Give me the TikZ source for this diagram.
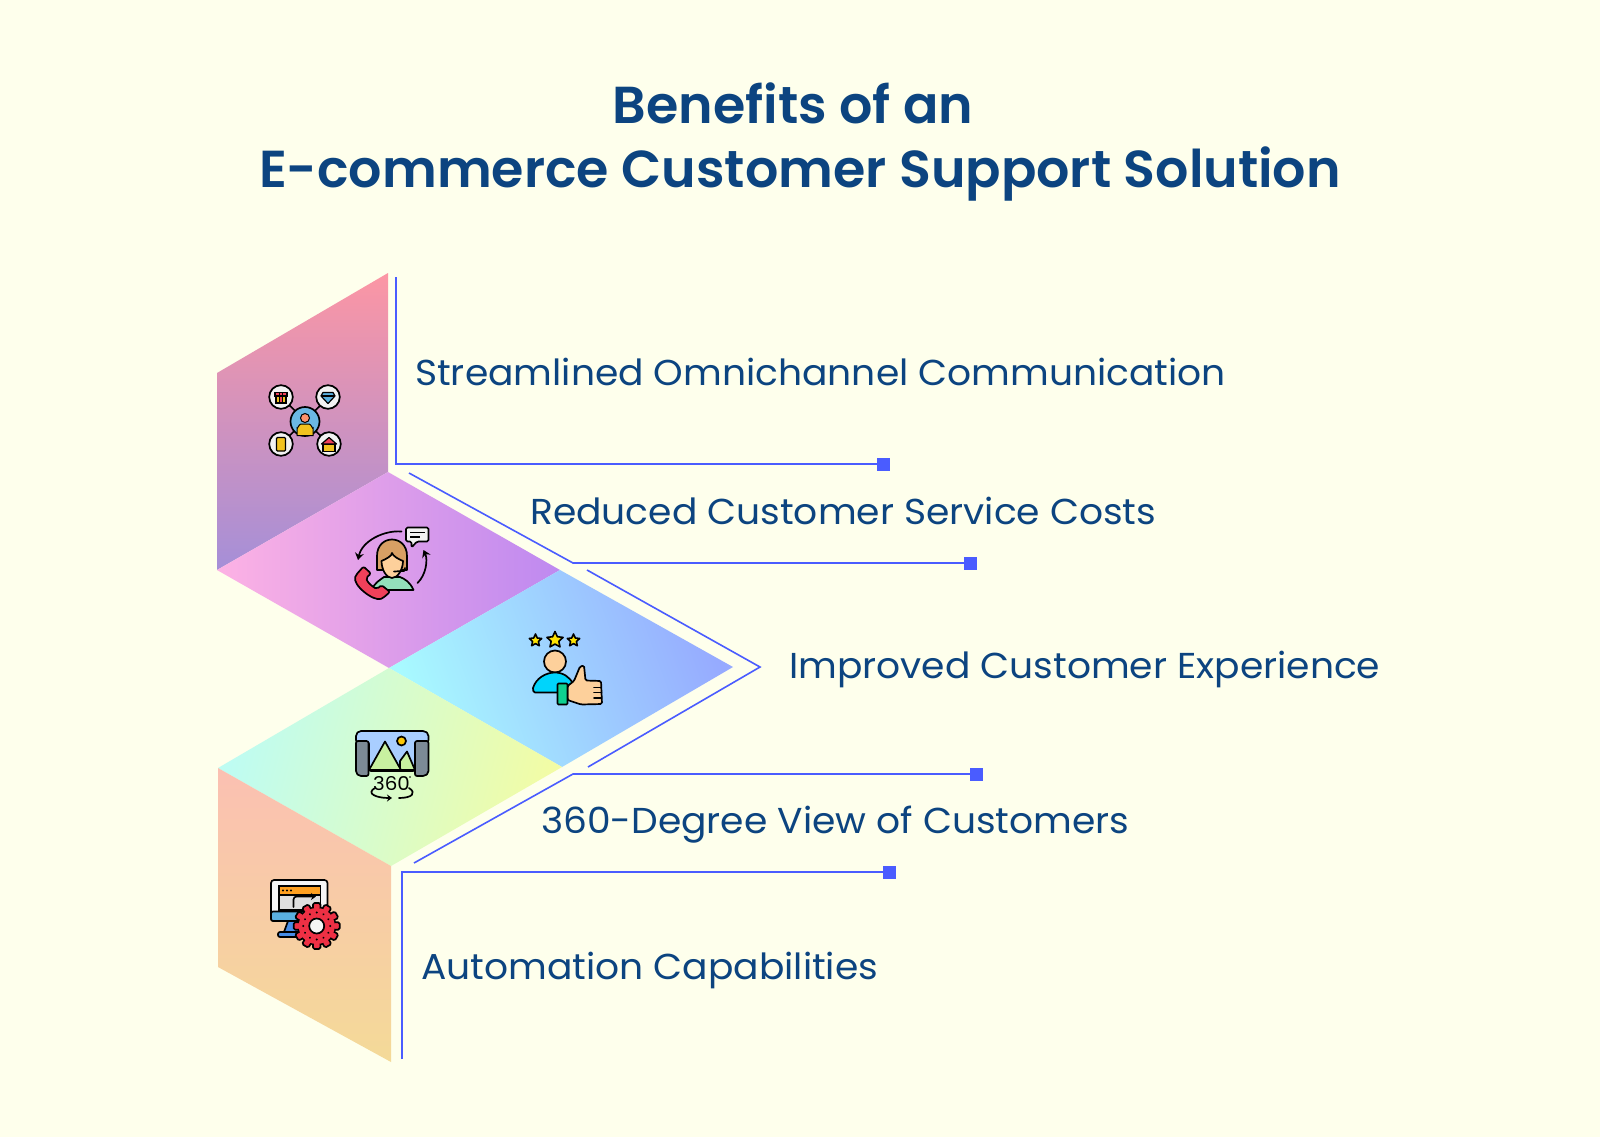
\documentclass[tikz,border=0pt]{standalone}
\usepackage{fontspec}
\setmainfont{Poppins}
\newfontfamily\benefitfont{Poppins}[FakeStretch=1.045]
\newfontfamily\titlefont{Poppins}[UprightFont=* SemiBold,FakeStretch=1.006]
\usetikzlibrary{positioning,shapes.geometric,arrows.meta}
\definecolor{paper}{HTML}{FEFFEC}
\definecolor{inkblue}{HTML}{0C4480}
\definecolor{wireblue}{HTML}{4A5CFF}
\definecolor{gold}{HTML}{F1C21F}
\definecolor{skin}{HTML}{FDD09B}
\definecolor{rose}{HTML}{F0405A}
\definecolor{sky}{HTML}{A9CEFF}
\definecolor{steel}{HTML}{7C8A96}
\definecolor{meadow}{HTML}{C8F0A0}
\definecolor{screenblue}{HTML}{5AB0E0}
\definecolor{shirt}{HTML}{93E0BB}
\definecolor{aqua}{HTML}{00D4FB}
\definecolor{cuff}{HTML}{10D090}
\definecolor{gearred}{HTML}{EE3044}
\definecolor{tabband}{HTML}{FFA020}
\tikzstyle{wire} = [draw=wireblue, line width=1.6pt, line join=miter]
\tikzstyle{endsq} = [rectangle, fill=wireblue, minimum size=13pt, inner sep=0pt]
\tikzstyle{benefit} = [anchor=base west, inner sep=0pt, text=inkblue, font=\benefitfont\fontsize{36}{40}\selectfont]
\tikzstyle{headline} = [anchor=base, inner sep=0pt, text=inkblue, font=\titlefont\fontsize{52}{60}\selectfont]
\tikzstyle{ico} = [draw=black, line width=1.7pt, line join=round, line cap=round]
\tikzstyle{tinystar} = [star, star points=5, star point ratio=2.1, draw=black, line width=1.6pt, line join=round, fill=yellow!85!orange, inner sep=0pt]
\begin{document}
\begin{tikzpicture}[x=1pt,y=-1pt]

	% Page
	\fill[paper] (0,0) rectangle (1600,1137);
	\useasboundingbox (0,0) rectangle (1600,1137);

	% Title
	\node[headline] (titlea) at (793,124) {Benefits of an};
	\node[headline] (titleb) at (800,187) {E-commerce Customer Support Solution};

	% Panels
	\shade[top color={rgb,255:red,252;green,150;blue,164}, bottom color={rgb,255:red,165;green,143;blue,216}]
		(217,373) -- (388,273) -- (388,472) -- (217,570) -- cycle;
	\shade[left color={rgb,255:red,253;green,178;blue,228}, right color={rgb,255:red,190;green,137;blue,240}]
		(217,570) -- (388,472) -- (560,570) -- (389,668) -- cycle;
	\shade[left color={rgb,255:red,168;green,250;blue,255}, right color={rgb,255:red,150;green,170;blue,255}, shading angle=110]
		(389,668) -- (560,570) -- (733,667) -- (562,767) -- cycle;
	\shade[left color={rgb,255:red,190;green,252;blue,242}, right color={rgb,255:red,242;green,252;blue,165}, shading angle=75]
		(218,768) -- (389,668) -- (562,767) -- (391,866) -- cycle;
	\shade[top color={rgb,255:red,251;green,192;blue,178}, bottom color={rgb,255:red,244;green,218;blue,152}]
		(218,768) -- (391,866) -- (391,1062) -- (218,967) -- cycle;

	% Wires
	\coordinate (streamtop) at (396,277);
	\coordinate (streambend) at (396,464);
	\node[endsq, right=481pt of streambend] (sqstream) {};
	\draw[wire] (streamtop) -- (streambend) -- (sqstream);

	\coordinate (costtop) at (409,473);
	\coordinate (costbend) at (573,563);
	\node[endsq, right=391pt of costbend] (sqcost) {};
	\draw[wire] (costtop) -- (costbend) -- (sqcost);

	\coordinate (exptop) at (587,570);
	\coordinate (exptip) at (760,667);
	\coordinate (expend) at (588,767);
	\draw[wire] (exptop) -- (exptip) -- (expend);

	\coordinate (viewtop) at (414,863);
	\coordinate (viewbend) at (573,774);
	\node[endsq, right=397pt of viewbend] (sqview) {};
	\draw[wire] (viewtop) -- (viewbend) -- (sqview);

	\coordinate (autotop) at (402,1059);
	\coordinate (autobend) at (402,872);
	\node[endsq, right=481pt of autobend] (sqauto) {};
	\draw[wire] (autotop) -- (autobend) -- (sqauto);

	% Labels
	\node[benefit] (streamtext) at (415,385) {Streamlined Omnichannel Communication};
	\node[benefit] (costtext) at (530,524) {Reduced Customer Service Costs};
	\node[benefit] (exptext) at (789,678) {Improved Customer Experience};
	\node[benefit] (viewtext) at (541,833) {360-Degree View of Customers};
	\node[benefit] (autotext) at (421,979) {Automation Capabilities};

	% Icon: network
	\draw[ico] (281,397) -- (329,444) (329,397) -- (281,444);
	\draw[ico, fill=screenblue!90!white] (305,421.5) circle[radius=14.5pt];
	\draw[line width=1pt, fill=gold] (297,435.5) -- (297,428) to[out=-90,in=180] (301,424) -- (309,424) to[out=0,in=-90] (313,428) -- (313,435.5) -- cycle;
	\draw[line width=1pt, fill=red!30!skin] (305,418) circle[radius=4.5pt];
	\foreach \cx/\cy in {281/397,328/397,281/444,329/444}
		\draw[ico, fill=gray!10] (\cx,\cy) circle[radius=11.8pt];
	\draw[line width=1.2pt, fill=gold] (276,395) rectangle (286,403);
	\draw[line width=1.2pt, fill=rose] (275,392.5) rectangle (287,396) (279.5,392.5) rectangle (282.5,403);
	\draw[line width=1.2pt, fill=screenblue, line join=round] (323,392.5) -- (333,392.5) -- (335,396) -- (328,403.5) -- (321,396) -- cycle;
	\draw[line width=1.2pt] (321,396) -- (335,396);
	\draw[line width=1.2pt, fill=gold, rounded corners=1pt] (276.5,437.5) rectangle (285.5,451);
	\draw[line width=1.2pt, fill=gold] (323,444) rectangle (335,451.5);
	\draw[line width=1.2pt, fill=rose, line join=round] (321.5,444) -- (329,437.5) -- (336.5,444) -- cycle;

	% Icon: phone agent
	\draw[ico, -{Stealth[length=7pt,width=9pt]}] (401.5,531.5) .. controls (384,530) and (362,541) .. (358,560);
	\draw[ico, -{Stealth[length=7pt,width=9pt]}] (417.5,583) .. controls (426,575) and (428,560) .. (423.5,550);
	\draw[ico, fill=gray!10, rounded corners=1.5pt] (406,527.5) -- (428.5,527.5) -- (428.5,541.5) -- (417,541.5) -- (411.5,547.5) -- (411.5,541.5) -- (406,541.5) -- cycle;
	\draw[line width=1.6pt] (410,532.5) -- (424.5,532.5) (410,537) -- (420,537);
	\draw[ico, fill=shirt] (372,590) .. controls (374,583) and (380,580) .. (384,577) -- (400,577) .. controls (405,579) and (410,582) .. (413.5,590) -- cycle;
	\draw[ico, fill=brown!60!skin] (377,570) -- (377,556) .. controls (377,534) and (407,534) .. (407,556) -- (407,570) -- cycle;
	\draw[ico, fill=skin] (381.5,561) .. controls (386,559) and (392,556) .. (392,553) .. controls (393,556) and (398,559) .. (403,561) .. controls (403,569) and (398,578) .. (392,578) .. controls (386,578) and (381.5,569) .. (381.5,561) -- cycle;
	\draw[ico] (405,568) -- (404,571) -- (394,571.5);
	\draw[ico, fill=rose, rounded corners=2pt] (363.5,566.5) -- (371,573.5) -- (366,578) .. controls (368,583) and (373,587) .. (377,589) -- (381.5,585) -- (390,592) -- (383,598) .. controls (374,602) and (352,585) .. (356,575) -- cycle;

	% Icon: rating
	\node[tinystar, minimum size=13pt] (stara) at (535.5,640.5) {};
	\node[tinystar, minimum size=17pt] (starb) at (555,640) {};
	\node[tinystar, minimum size=13pt] (starc) at (573.5,640.5) {};
	\draw[ico, fill=skin] (555,661.5) circle[radius=11pt];
	\draw[ico, fill=aqua] (535,692.5) to[out=180,in=-90] (533,688) .. controls (536,678) and (546,672.5) .. (555,672.5) .. controls (563,672.5) and (570,677) .. (573,684) -- (558,692.5) -- cycle;
	\draw[ico, fill=skin, rounded corners=1.5pt] (567.5,686) -- (574,681) -- (580,666.5) -- (584,665.5) -- (585.5,680.5) -- (601,681) -- (602,704) -- (581,704.5) -- (567.5,700) -- cycle;
	\draw[ico] (594,687.5) -- (601,687.5) (594,692.5) -- (601.5,692.5) (594,698) -- (601.5,698);
	\draw[ico, fill=cuff, rounded corners=1pt] (557.5,683.5) rectangle (567.5,704.5);

	% Icon: panorama
	\draw[ico, fill=sky, rounded corners=2pt] (356,742) -- (356,734) -- (359,731) -- (425,731) -- (428.5,734) -- (428.5,742) -- (415,742) -- (415,771) -- (369,771) -- (369,742) -- cycle;
	\draw[ico, fill=steel, rounded corners=2pt] (356,741) -- (368.5,741) -- (368.5,776) -- (359,776) -- (356,773) -- cycle;
	\draw[ico, fill=steel, rounded corners=2pt] (415,741) -- (428.5,741) -- (428.5,773) -- (425,776) -- (415,776) -- cycle;
	\draw[ico, fill=yellow!60!orange] (401.5,741) circle[radius=4.5pt];
	\draw[ico, fill=meadow] (400,761) -- (407,751.5) -- (415,770) -- (400,770) -- cycle;
	\draw[ico, fill=meadow] (369,770) -- (385,741.5) -- (401,770) -- cycle;
	\node[inner sep=0pt, font=\benefitfont\fontsize{19}{19}\selectfont] (threesixty) at (391.5,784) {360};
	\fill (410,777) circle[radius=0.8pt];
	\draw[ico, -{Stealth[length=5pt,width=7pt]}] (375,788) .. controls (366,793) and (375,798) .. (392,798);
	\draw[ico] (399,798) .. controls (412,798) and (417,793) .. (409,788);

	% Icon: automation
	\draw[ico, fill=gray!8, rounded corners=3pt] (271,880) rectangle (327.5,921);
	\draw[ico, fill=screenblue, rounded corners=2pt] (271,911.5) -- (327.5,911.5) -- (327.5,921) -- (271,921) -- cycle;
	\draw[ico, fill=screenblue!80!blue] (288,921) -- (284,932) -- (300,932) -- (300,921) -- cycle;
	\draw[ico, fill=screenblue!80!blue, rounded corners=2pt] (278,932) rectangle (298,937);
	\draw[line width=1.2pt, fill=gray!25] (279,886) rectangle (320.5,910);
	\draw[line width=1.2pt, fill=tabband] (279,886) rectangle (320.5,895);
	\foreach \dx in {283,287,291}
		\fill[black] (\dx,890.5) circle[radius=1.1pt];
	\draw[ico, -{Stealth[length=5pt,width=7pt]}, rounded corners=3pt] (293.5,907) -- (293.5,896.5) -- (316,896.5);
	\fill[black] (316.7,926) circle[radius=19.5pt];
	\foreach \a in {0,30,...,330}
		\draw[ico, fill=gearred, shift={(316.7,926)}, rotate=\a, rounded corners=1.5pt] (-3.7,-23) rectangle (3.7,-16);
	\fill[gearred] (316.7,926) circle[radius=18pt];
	\foreach \a in {0,30,...,330}
		\fill[black, shift={(316.7,926)}, rotate=\a] (0,-13.5) circle[radius=1.1pt];
	\draw[ico, fill=gray!8] (316.7,926) circle[radius=7.5pt];

\end{tikzpicture}
\end{document}
